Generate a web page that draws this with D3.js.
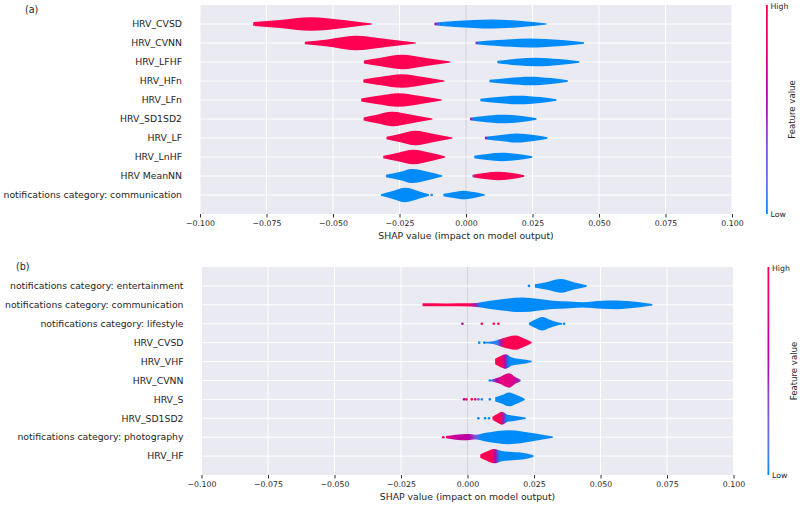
<!DOCTYPE html>
<html>
<head>
<meta charset="utf-8">
<script src="https://cdn.jsdelivr.net/npm/d3@7"></script>
<style>
body { margin: 0; background: #fff; }
svg { display: block; font-family: "DejaVu Sans", sans-serif; }
</style>
</head>
<body>
<script>
// ---------- data ----------
const tickValues = [-0.1, -0.075, -0.05, -0.025, 0, 0.025, 0.05, 0.075, 0.1];

// panel (a)
const featuresA = ["HRV_CVSD", "HRV_CVNN", "HRV_LFHF", "HRV_HFn", "HRV_LFn", "HRV_SD1SD2",
	"HRV_LF", "HRV_LnHF", "HRV MeanNN", "notifications category: communication"];

// each violin blob: row, density profile [shap, relative density], colour stops [shap, feature value 0..1]
const violinsA = [
	{row: 0, profile: [[-0.0800, 0.26], [-0.0700, 0.55], [-0.0585, 0.95], [-0.0460, 0.55], [-0.0354, 0.07]], stops: [[0, 1]]},
	{row: 0, profile: [[-0.0119, 0.16], [-0.0040, 0.40], [0.0096, 0.62], [0.0220, 0.38], [0.0303, 0.08]], stops: [[-0.0119, 0.6], [-0.0100, 0]]},
	{row: 1, profile: [[-0.0606, 0.18], [-0.0520, 0.50], [-0.0416, 1.00], [-0.0300, 0.55], [-0.0189, 0.07]], stops: [[0, 1]]},
	{row: 1, profile: [[0.0036, 0.16], [0.0120, 0.40], [0.0240, 0.62], [0.0360, 0.40], [0.0444, 0.10]], stops: [[0.0036, 0.5], [0.0050, 0]]},
	{row: 2, profile: [[-0.0384, 0.22], [-0.0320, 0.60], [-0.0241, 1.00], [-0.0150, 0.55], [-0.0059, 0.08]], stops: [[0, 1]]},
	{row: 2, profile: [[0.0118, 0.16], [0.0190, 0.45], [0.0266, 0.60], [0.0350, 0.40], [0.0426, 0.10]], stops: [[0, 0]]},
	{row: 3, profile: [[-0.0386, 0.22], [-0.0320, 0.60], [-0.0241, 0.95], [-0.0160, 0.55], [-0.0081, 0.08]], stops: [[0, 1]]},
	{row: 3, profile: [[0.0088, 0.16], [0.0160, 0.42], [0.0240, 0.60], [0.0320, 0.40], [0.0383, 0.10]], stops: [[0, 0]]},
	{row: 4, profile: [[-0.0394, 0.22], [-0.0330, 0.60], [-0.0254, 0.95], [-0.0170, 0.55], [-0.0091, 0.08]], stops: [[0, 1]]},
	{row: 4, profile: [[0.0054, 0.16], [0.0120, 0.42], [0.0196, 0.60], [0.0280, 0.40], [0.0340, 0.10]], stops: [[0, 0]]},
	{row: 5, profile: [[-0.0385, 0.22], [-0.0335, 0.60], [-0.0279, 1.00], [-0.0200, 0.55], [-0.0126, 0.08]], stops: [[0, 1]]},
	{row: 5, profile: [[0.0015, 0.16], [0.0070, 0.42], [0.0134, 0.60], [0.0210, 0.40], [0.0265, 0.10]], stops: [[0.0015, 0.6], [0.0030, 0]]},
	{row: 6, profile: [[-0.0299, 0.16], [-0.0250, 0.55], [-0.0191, 1.00], [-0.0120, 0.55], [-0.0051, 0.08]], stops: [[0, 1]]},
	{row: 6, profile: [[0.0071, 0.16], [0.0130, 0.42], [0.0190, 0.62], [0.0255, 0.40], [0.0306, 0.10]], stops: [[0.0071, 0.6], [0.0085, 0]]},
	{row: 7, profile: [[-0.0311, 0.16], [-0.0260, 0.55], [-0.0198, 1.00], [-0.0130, 0.55], [-0.0078, 0.08]], stops: [[0, 1]]},
	{row: 7, profile: [[0.0031, 0.16], [0.0080, 0.42], [0.0134, 0.58], [0.0195, 0.40], [0.0249, 0.10]], stops: [[0, 0]]},
	{row: 8, profile: [[-0.0301, 0.16], [-0.0250, 0.55], [-0.0204, 0.97], [-0.0140, 0.55], [-0.0089, 0.08]], stops: [[0, 0]]},
	{row: 8, profile: [[0.0024, 0.16], [0.0070, 0.42], [0.0121, 0.58], [0.0175, 0.40], [0.0219, 0.10]], stops: [[0.0024, 0.2], [0.0035, 1]]},
	{row: 9, profile: [[-0.0320, 0.12], [-0.0275, 0.55], [-0.0229, 1.00], [-0.0175, 0.50], [-0.0139, 0.10]], stops: [[0, 0]]},
	{row: 9, profile: [[-0.0085, 0.16], [-0.0045, 0.42], [-0.0010, 0.60], [0.0030, 0.40], [0.0071, 0.08]], stops: [[0, 0]]}
];
const dotsA = [{row: 9, shap: -0.0129, fv: 0}];

// panel (b)
const featuresB = ["notifications category: entertainment", "notifications category: communication",
	"notifications category: lifestyle", "HRV_CVSD", "HRV_VHF", "HRV_CVNN", "HRV_S", "HRV_SD1SD2",
	"notifications category: photography", "HRV_HF"];

const violinsB = [
	{row: 0, profile: [[0.0253, 0.22], [0.0300, 0.55], [0.0350, 0.95], [0.0400, 0.50], [0.0448, 0.10]], stops: [[0, 0]]},
	{row: 1, profile: [[-0.0169, 0.21], [-0.0080, 0.20], [0.0013, 0.22], [0.0100, 0.65], [0.0206, 1.00], [0.0320, 0.58],
		[0.0385, 0.46], [0.0434, 0.36], [0.0506, 0.55], [0.0560, 0.60], [0.0640, 0.38], [0.0695, 0.10]],
		stops: [[-0.0169, 1], [0.0005, 1], [0.0030, 0.5], [0.0050, 0]]},
	{row: 2, profile: [[0.0231, 0.15], [0.0255, 0.60], [0.0281, 0.95], [0.0310, 0.55], [0.0340, 0.20], [0.0356, 0.10]], stops: [[0, 0]]},
	{row: 3, profile: [[0.0063, 0.10], [0.0095, 0.20], [0.0125, 0.52], [0.0181, 1.00], [0.0215, 0.55], [0.0241, 0.10]],
		stops: [[0.0063, 0], [0.0110, 0.05], [0.0125, 0.5], [0.0140, 1], [0.0241, 1]]},
	{row: 4, profile: [[0.0104, 0.38], [0.0125, 0.78], [0.0144, 1.00], [0.0165, 0.60], [0.0190, 0.40], [0.0219, 0.26], [0.0241, 0.10]],
		stops: [[0.0104, 1], [0.0128, 1], [0.0140, 0.55], [0.0156, 0], [0.0241, 0]]},
	{row: 5, profile: [[0.0088, 0.10], [0.0119, 0.43], [0.0156, 1.00], [0.0181, 0.43], [0.0200, 0.10]],
		stops: [[0.0088, 0.1], [0.0110, 0.55], [0.0125, 0.8], [0.0170, 0.75], [0.0190, 0.5], [0.0200, 0.3]]},
	{row: 6, profile: [[0.0104, 0.28], [0.0130, 0.60], [0.0156, 0.97], [0.0185, 0.60], [0.0215, 0.10]], stops: [[0, 0]]},
	{row: 7, profile: [[0.0094, 0.22], [0.0112, 0.60], [0.0130, 0.90], [0.0150, 0.50], [0.0181, 0.33], [0.0219, 0.10]],
		stops: [[0.0094, 1], [0.0122, 1], [0.0135, 0.5], [0.0148, 0], [0.0219, 0]]},
	{row: 8, profile: [[-0.0081, 0.15], [-0.0044, 0.35], [0.0000, 0.43], [0.0031, 0.33], [0.0069, 0.60], [0.0156, 0.97],
		[0.0244, 0.57], [0.0321, 0.08]],
		stops: [[-0.0081, 0.95], [-0.0070, 0.75], [-0.0050, 0.62], [0.0005, 0.6], [0.0030, 0.3], [0.0050, 0]]},
	{row: 9, profile: [[0.0048, 0.22], [0.0070, 0.60], [0.0100, 1.00], [0.0130, 0.70], [0.0156, 0.60], [0.0206, 0.47], [0.0248, 0.12]],
		stops: [[0.0048, 1], [0.0090, 1], [0.0105, 0.55], [0.0120, 0], [0.0248, 0]]}
];
const dotsB = [
	{row: 0, shap: 0.0231, fv: 0},
	{row: 2, shap: -0.0019, fv: 0.55}, {row: 2, shap: 0.0054, fv: 1}, {row: 2, shap: 0.0099, fv: 1},
	{row: 2, shap: 0.0116, fv: 1}, {row: 2, shap: 0.0363, fv: 0},
	{row: 3, shap: 0.0044, fv: 0}, {row: 3, shap: 0.0063, fv: 0},
	{row: 5, shap: 0.0084, fv: 0},
	{row: 6, shap: -0.0013, fv: 0.6}, {row: 6, shap: -0.0004, fv: 0.95}, {row: 6, shap: 0.0016, fv: 1},
	{row: 6, shap: 0.0029, fv: 0.9}, {row: 6, shap: 0.0041, fv: 0.3}, {row: 6, shap: 0.0054, fv: 0.05},
	{row: 6, shap: 0.0084, fv: 0},
	{row: 7, shap: 0.0041, fv: 0}, {row: 7, shap: 0.0066, fv: 0}, {row: 7, shap: 0.0081, fv: 0},
	{row: 8, shap: -0.0091, fv: 1}
];

// ---------- drawing ----------
const width = 800, height = 505;
const svg = d3.select("body").append("svg").attr("width", width).attr("height", height);
const defs = svg.append("defs");

// shap red_blue colormap (blue -> purple -> red)
const cmap = d3.scaleLinear()
	.domain([0, 0.5, 1])
	.range(["#008bfb", d3.hcl(323.6, 80, 40), "#ff0052"])
	.interpolate(d3.interpolateHcl);

let gradId = 0;

function drawPanel(p) {
	const x = d3.scaleLinear().domain([-0.1, 0.1]).range([p.left, p.right]);
	const y = d3.scalePoint().domain(d3.range(p.features.length)).range([p.top, p.bottom]).padding(1);
	const w = d3.scaleLinear().domain([0, 1]).range([0, 7.2]);
	const g = svg.append("g");

	// background + grid
	g.append("rect").attr("x", p.left).attr("y", p.top)
		.attr("width", p.right - p.left).attr("height", p.bottom - p.top).attr("fill", "#eaeaf2");
	g.selectAll(".vgrid").data(tickValues).enter().append("line")
		.attr("x1", d => x(d)).attr("x2", d => x(d))
		.attr("y1", p.top).attr("y2", p.bottom)
		.attr("stroke", d => d === 0 ? "#d2d2da" : "#fff").attr("stroke-width", 1);
	g.selectAll(".hgrid").data(p.features).enter().append("line")
		.attr("x1", p.left).attr("x2", p.right)
		.attr("y1", (d, i) => y(i)).attr("y2", (d, i) => y(i))
		.attr("stroke", "#fff").attr("stroke-width", 1);

	// violins
	p.violins.forEach(v => {
		const id = "grad" + (gradId++);
		const grad = defs.append("linearGradient").attr("id", id)
			.attr("gradientUnits", "userSpaceOnUse")
			.attr("x1", p.left).attr("x2", p.right).attr("y1", 0).attr("y2", 0);
		grad.selectAll("stop").data(v.stops.length === 1 ? [[-0.1, v.stops[0][1]]] : v.stops).enter().append("stop")
			.attr("offset", d => (x(d[0]) - p.left) / (p.right - p.left))
			.attr("stop-color", d => cmap(d[1]));
		const area = d3.area()
			.x(d => x(d[0]))
			.y0(d => y(v.row) - w(d[1]))
			.y1(d => y(v.row) + w(d[1]))
			.curve(d3.curveMonotoneX);
		g.append("path").attr("d", area(v.profile)).attr("fill", "url(#" + id + ")");
	});

	// outlier points
	g.selectAll(".dot").data(p.dots).enter().append("circle")
		.attr("cx", d => x(d.shap)).attr("cy", d => y(d.row)).attr("r", 1.3)
		.attr("fill", d => cmap(d.fv));

	// feature labels
	g.selectAll(".flabel").data(p.features).enter().append("text")
		.attr("x", p.left - 18).attr("y", (d, i) => y(i)).attr("dy", "0.35em")
		.attr("text-anchor", "end").attr("font-size", 9.3).attr("fill", "#262626")
		.text(d => d);

	// x axis
	const axis = g.append("g").attr("transform", "translate(0," + p.bottom + ")")
		.call(d3.axisBottom(x).tickValues(tickValues).tickFormat(d3.format(".3f")).tickSize(3.5).tickPadding(2.5));
	axis.select(".domain").remove();
	axis.selectAll("line").attr("stroke", "#333");
	axis.selectAll("text").attr("font-size", 7.8).attr("fill", "#262626").attr("font-family", "DejaVu Sans");

	g.append("text").attr("x", (p.left + p.right) / 2).attr("y", p.bottom + 22).attr("dy", "0.35em")
		.attr("text-anchor", "middle").attr("font-size", 9.3).attr("fill", "#262626")
		.text("SHAP value (impact on model output)");

	// panel letter
	g.append("text").attr("x", p.letterX).attr("y", p.top + p.letterDy).attr("dy", "0.35em")
		.attr("font-size", 9.6).attr("fill", "#262626").text(p.letter);

	// colour bar
	const cbId = "cb" + (gradId++);
	const cbGrad = defs.append("linearGradient").attr("id", cbId)
		.attr("x1", 0).attr("x2", 0).attr("y1", 1).attr("y2", 0);
	cbGrad.selectAll("stop").data(d3.range(0, 1.0001, 0.1)).enter().append("stop")
		.attr("offset", d => d).attr("stop-color", d => cmap(d));
	const cbx = p.right + 34;
	g.append("rect").attr("x", cbx).attr("y", p.top).attr("width", 1.8).attr("height", p.bottom - p.top)
		.attr("fill", "url(#" + cbId + ")");
	g.append("text").attr("x", cbx + 4.5).attr("y", p.top + 1).attr("dy", "0.35em")
		.attr("font-size", 7.8).attr("fill", "#262626").text("High");
	g.append("text").attr("x", cbx + 4.5).attr("y", p.bottom).attr("dy", "0.35em")
		.attr("font-size", 7.8).attr("fill", "#262626").text("Low");
	g.append("text")
		.attr("transform", "translate(" + (cbx + 26) + "," + ((p.top + p.bottom) / 2) + ") rotate(-90)")
		.attr("text-anchor", "middle").attr("dy", "0.35em")
		.attr("font-size", 8.6).attr("fill", "#262626").text("Feature value");
}

drawPanel({features: featuresA, violins: violinsA, dots: dotsA,
	left: 200, right: 732, top: 5, bottom: 214, letter: "(a)", letterX: 25, letterDy: 5});
drawPanel({features: featuresB, violins: violinsB, dots: dotsB,
	left: 201.5, right: 733.5, top: 267, bottom: 475, letter: "(b)", letterX: 16, letterDy: 0});
</script>
</body>
</html>
